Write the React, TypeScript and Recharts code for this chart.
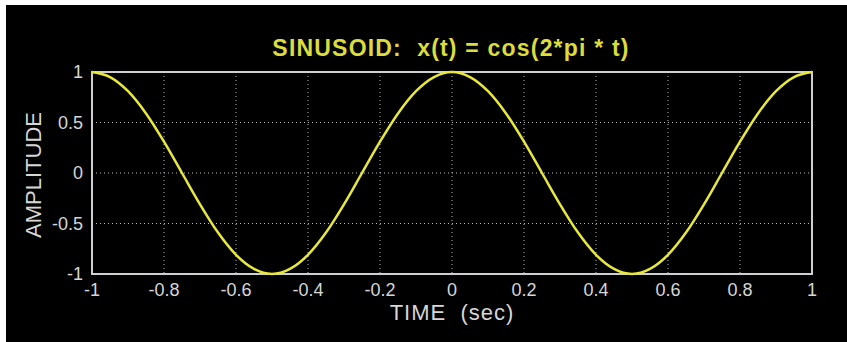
import React from 'react';
import { CartesianGrid, Line, LineChart, ReferenceArea, XAxis, YAxis } from 'recharts';

// samples, every 0.05 s
const time = [
  -1, -0.95, -0.9, -0.85, -0.8, -0.75, -0.7, -0.65, -0.6, -0.55, -0.5,
  -0.45, -0.4, -0.35, -0.3, -0.25, -0.2, -0.15, -0.1, -0.05, 0,
  0.05, 0.1, 0.15, 0.2, 0.25, 0.3, 0.35, 0.4, 0.45, 0.5,
  0.55, 0.6, 0.65, 0.7, 0.75, 0.8, 0.85, 0.9, 0.95, 1,
];
const amplitude = [
  1, 0.95, 0.81, 0.59, 0.31, 0, -0.31, -0.59, -0.81, -0.95, -1,
  -0.95, -0.81, -0.59, -0.31, 0, 0.31, 0.59, 0.81, 0.95, 1,
  0.95, 0.81, 0.59, 0.31, 0, -0.31, -0.59, -0.81, -0.95, -1,
  -0.95, -0.81, -0.59, -0.31, 0, 0.31, 0.59, 0.81, 0.95, 1,
];
const timeTicks = [-1, -0.8, -0.6, -0.4, -0.2, 0, 0.2, 0.4, 0.6, 0.8, 1];
const ampTicks = [-1, -0.5, 0, 0.5, 1];

const data = time.map((t, i) => ({ t, x: amplitude[i] }));

const font = '"Liberation Sans", Arial, sans-serif';
const tickStyle = { fontSize: 18, fill: '#d6d6d6', fontFamily: font };

export default function App() {
  return (
    <div style={{ position: 'absolute', left: 6, top: 5, width: 841, height: 337, background: '#000' }}>
      <div
        style={{
          position: 'absolute', left: 445, top: 43, transform: 'translate(-50%, -50%)',
          color: '#dcdc3a', fontFamily: font, fontWeight: 'bold', fontSize: 23, letterSpacing: 1.2, whiteSpace: 'pre',
        }}
      >
        {'SINUSOID:  x(t) = cos(2*pi * t)'}
      </div>
      <div
        style={{
          position: 'absolute', left: 28, top: 170, transform: 'translate(-50%, -50%) rotate(-90deg)',
          color: '#d6d6d6', fontFamily: font, fontSize: 22, whiteSpace: 'pre',
        }}
      >
        AMPLITUDE
      </div>
      <LineChart width={841} height={337} data={data} margin={{ top: 67, right: 35, bottom: 21, left: 20 }}>
        <CartesianGrid stroke="#bdbdbd" strokeDasharray="1 3" horizontalValues={[-0.5, 0, 0.5]} verticalValues={[-0.8, -0.6, -0.4, -0.2, 0, 0.2, 0.4, 0.6, 0.8]} />
        <XAxis
          dataKey="t"
          type="number"
          domain={[-1, 1]}
          ticks={timeTicks}
          tickFormatter={(v) => String(v)}
          axisLine={false}
          tickLine={false}
          tickSize={0}
          tickMargin={9}
          tick={tickStyle}
          height={47}
          label={{ value: 'TIME\u00a0\u00a0(sec)', position: 'insideBottom', offset: 1, fill: '#d6d6d6', fontSize: 22, letterSpacing: 1, fontFamily: font }}
        />
        <YAxis
          type="number"
          domain={[-1, 1]}
          ticks={ampTicks}
          tickFormatter={(v) => String(v)}
          axisLine={false}
          tickLine={false}
          tickSize={0}
          tickMargin={9}
          tick={tickStyle}
          width={66}
        />
        <ReferenceArea x1={-1} x2={1} y1={-1} y2={1} fill="none" stroke="#cfcfcf" strokeWidth={2} />
        <Line type="monotone" dataKey="x" stroke="#e8e83a" strokeWidth={2.5} dot={false} isAnimationActive={false} />
      </LineChart>
    </div>
  );
}
